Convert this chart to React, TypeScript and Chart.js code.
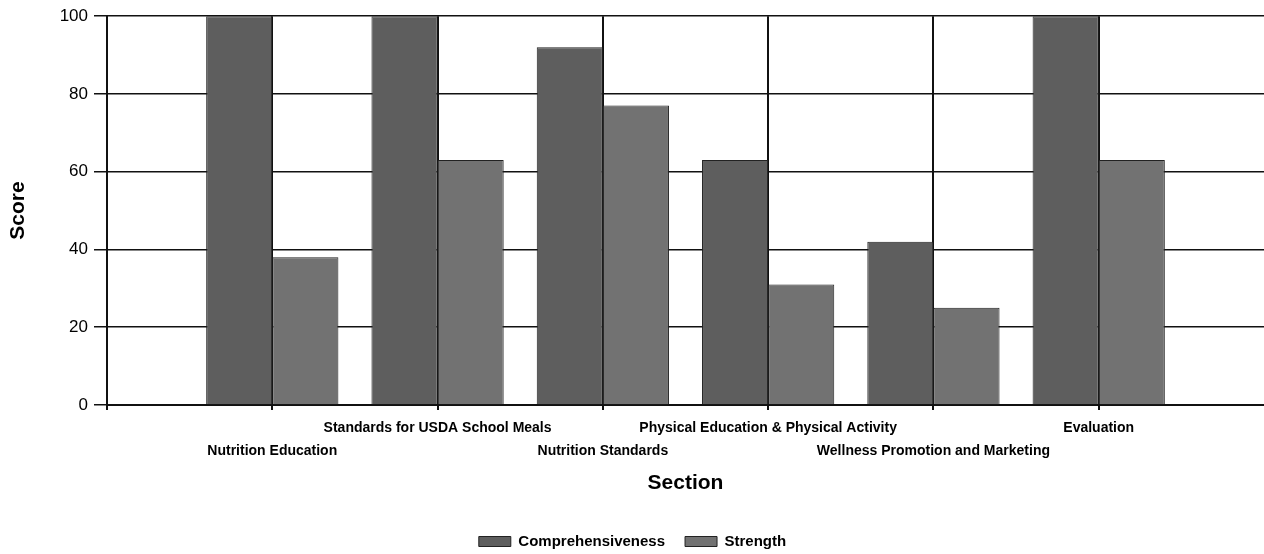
import React, { useEffect, useRef } from "react";
import { Chart, registerables } from "chart.js";

Chart.register(...registerables);

const categories = [
  "Nutrition Education",
  "Standards for USDA School Meals",
  "Nutrition Standards",
  "Physical Education & Physical Activity",
  "Wellness Promotion and Marketing",
  "Evaluation",
];
const comprehensiveness = [100, 100, 92, 63, 42, 100];
const strength = [38, 63, 77, 31, 25, 63];
const yTicks = [0, 20, 40, 60, 80, 100];

const FONT = "'Liberation Sans', Arial, sans-serif";

export default function App() {
  const ref = useRef<HTMLCanvasElement>(null);

  useEffect(() => {
    document.body.style.margin = "0";
    const labels = ["", ...categories, ""];
    const pad = (arr: number[]) => [null, ...arr, null];
    const chart = new Chart(ref.current!, {
      type: "bar",
      data: {
        labels,
        datasets: [
          {
            label: "Comprehensiveness",
            data: pad(comprehensiveness),
            backgroundColor: "#5e5e5e",
            borderColor: "#222",
            borderWidth: 1,
            categoryPercentage: 0.8,
            barPercentage: 1.0,
          },
          {
            label: "Strength",
            data: pad(strength),
            backgroundColor: "#727272",
            borderColor: "#222",
            borderWidth: 1,
            categoryPercentage: 0.8,
            barPercentage: 1.0,
          },
        ],
      },
      options: {
        animation: false,
        responsive: false,
        layout: { padding: { top: 15, right: -1, left: 0, bottom: -5 } },
        plugins: {
          legend: {
            position: "bottom",
            labels: {
              boxWidth: 32,
              boxHeight: 10,
              padding: 20,
              color: "#000",
              font: { family: FONT, size: 15, weight: "bold" },
            },
          },
          tooltip: { enabled: false },
        },
        scales: {
          x: {
            offset: false,
            grid: {
              offset: false,
              color: (ctx: any) => (ctx.index === labels.length - 1 ? "rgba(0,0,0,0)" : "#111"),
              lineWidth: 2,
              tickLength: 5,
              drawTicks: true,
            },
            border: { display: true, color: "#111", width: 2 },
            ticks: {
              autoSkip: false,
              maxRotation: 0,
              minRotation: 0,
              padding: 7,
              color: "#000",
              font: { family: FONT, size: 14, weight: "bold", lineHeight: "23px" },
              callback: (_v: any, i: number) => {
                const t = labels[i];
                if (!t) return "";
                const k = i - 1;
                return k % 2 === 0 ? ["", t] : [t];
              },
            },
            title: {
              display: true,
              text: "Section",
              color: "#000",
              font: { family: FONT, size: 21, weight: "bold" },
              padding: { top: 0, bottom: 18 },
            },
            afterFit: (s: any) => {
              s.height = 109;
              s.paddingLeft = 0;
              s.paddingRight = 0;
            },
          },
          y: {
            min: 0,
            max: 100,
            afterBuildTicks: (s: any) => {
              s.ticks = yTicks.map((v) => ({ value: v }));
            },
            grid: {
              color: "#111",
              lineWidth: 1.5,
              tickLength: 13,
            },
            border: { display: true, color: "#111", width: 2 },
            ticks: {
              padding: 6,
              color: "#000",
              font: { family: FONT, size: 17 },
            },
            title: {
              display: true,
              text: "Score",
              color: "#000",
              font: { family: FONT, size: 21, weight: "bold" },
              padding: { top: 6, bottom: 0 },
            },
            afterFit: (s: any) => {
              s.width = 107;
            },
          },
        },
      },
    });
    return () => chart.destroy();
  }, []);

  return (
    <div style={{ width: 1264, height: 554, background: "#fff" }}>
      <canvas ref={ref} width={1264} height={554} style={{ display: "block" }} />
    </div>
  );
}
